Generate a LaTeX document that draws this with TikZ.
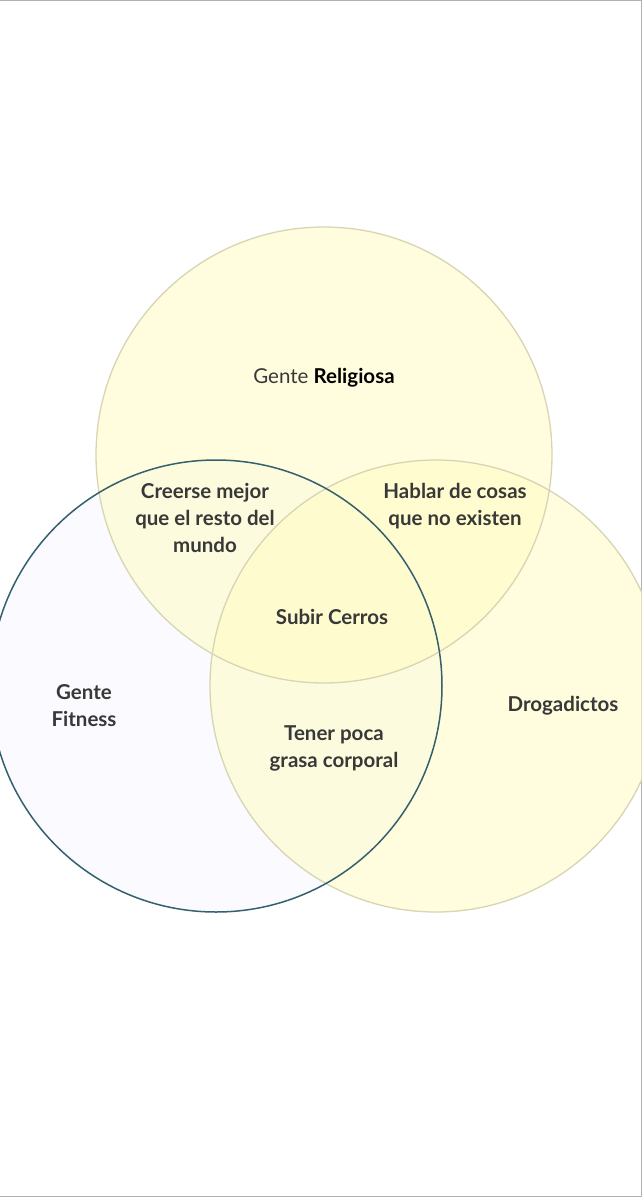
\documentclass[tikz,border=0pt]{standalone}
\usepackage{fontspec}
\setmainfont{Lato}
\definecolor{fitstroke}{HTML}{35606E}
\begin{document}
\begin{tikzpicture}[x=1pt,y=-1pt,
  lbl/.style={align=center,font=\fontsize{20.5}{27}\selectfont\bfseries,text=black!78},
  ycirc/.style={fill=yellow!22!white,fill opacity=0.6}]
\useasboundingbox (0,0) rectangle (642,1200);
\fill[white] (0,0) rectangle (642,1200);
\draw[gray!60,line width=1pt] (0,0.5) -- (641.5,0.5) -- (641.5,1196) -- (0,1196);
\fill[red!4!blue!2!white] (216,686) circle (226);
\fill[ycirc] (324,455) circle (228);
\fill[ycirc] (436,686) circle (226);
\draw[draw=black!15!yellow!40!gray!50,line width=1.3pt] (324,455) circle (228);
\draw[draw=black!15!yellow!40!gray!50,line width=1.3pt] (436,686) circle (226);
\draw[draw=fitstroke,line width=1.5pt] (216,686) circle (226);
\node[lbl] (r) at (324,378) {\mdseries Gente \bfseries\color{black}Religiosa};
\node[lbl] (a) at (205,518) {Creerse mejor\\que el resto del\\mundo};
\node[lbl] (b) at (455,506) {Hablar de cosas\\que no existen};
\node[lbl] (c) at (332,617) {Subir Cerros};
\node[lbl] (f) at (84,706) {Gente\\Fitness};
\node[lbl] (d) at (563,706) {Drogadictos};
\node[lbl] (g) at (334,748) {Tener poca\\grasa corporal};
\end{tikzpicture}
\end{document}
